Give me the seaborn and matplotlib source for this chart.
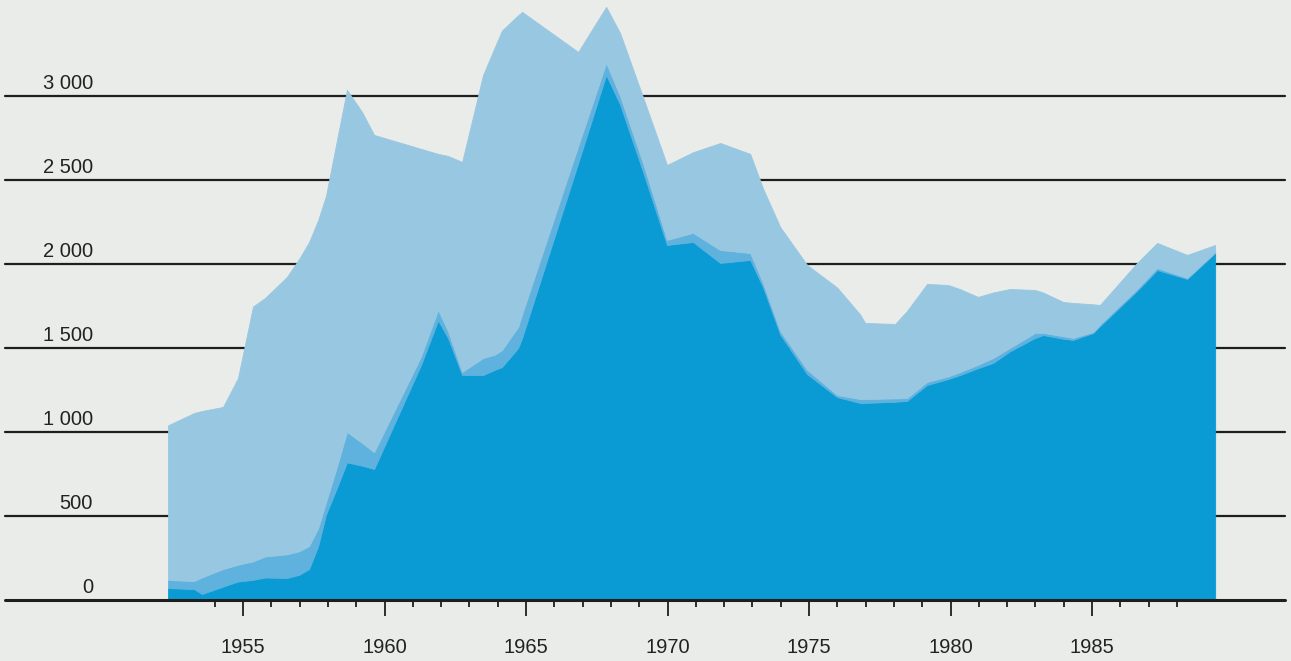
import numpy as np
import pandas as pd
import matplotlib
matplotlib.use("Agg")
import matplotlib.pyplot as plt
import seaborn as sns

# -----------------------------
# data (x in years, layer thickness in units)
# -----------------------------
years = [1952.35, 1953.27, 1953.55, 1954.29, 1954.82, 1955.35, 1955.78, 1956.55,
         1956.98, 1957.33, 1957.65, 1957.93, 1958.29, 1958.67, 1959.20, 1959.63,
         1961.29, 1961.89, 1962.24, 1962.74, 1963.48, 1963.90, 1964.15, 1964.72,
         1964.86, 1966.84, 1967.83, 1968.32, 1969.13, 1969.98, 1970.90, 1971.86,
         1972.92, 1973.37, 1973.98, 1974.93, 1975.99, 1976.80, 1976.98, 1978.04,
         1978.46, 1979.17, 1979.91, 1980.34, 1980.97, 1981.50, 1982.10, 1982.99,
         1983.27, 1983.98, 1984.33, 1985.04, 1985.28, 1986.59, 1987.30, 1988.36,
         1989.35]

dark = [71, 65, 36, 80, 110, 120, 134, 131, 150, 184, 320, 509, 656, 819, 800, 780,
        1400, 1664, 1560, 1339, 1339, 1370, 1387, 1500, 1560, 2600, 3125, 2950,
        2550, 2113, 2131, 2006, 2024, 1863, 1580, 1345, 1208, 1173, 1173, 1180,
        1185, 1280, 1315, 1339, 1380, 1411, 1480, 1560, 1577, 1555, 1548, 1589,
        1630, 1840, 1964, 1911, 2065]

medium = [48, 48, 99, 104, 100, 110, 125, 141, 140, 137, 106, 72, 122, 181, 135, 100,
          50, 62, 40, 18, 101, 90, 101, 125, 140, 100, 71, 50, 50, 30, 54, 77,
          41, 24, 20, 25, 12, 23, 23, 20, 17, 18, 15, 18, 20, 29, 20, 30, 13, 15,
          12, 6, 10, 10, 12, 6, 6]

light = [921, 1000, 990, 965, 1111, 1517, 1539, 1651, 1740, 1809, 1834, 1824, 1936,
         2036, 1970, 1888, 1235, 929, 1043, 1250, 1685, 1832, 1902, 1855, 1800,
         562, 334, 375, 394, 446, 480, 637, 590, 563, 620, 624, 640, 504, 453, 443,
         518, 583, 545, 493, 404, 390, 351, 255, 240, 204, 208, 165, 116, 156, 149,
         137, 42]

y_ticks = [0, 500, 1000, 1500, 2000, 2500, 3000]
y_labels = ["0", "500", "1 000", "1 500", "2 000", "2 500", "3 000"]
x_major = [1955, 1960, 1965, 1970, 1975, 1980, 1985]
x_minor = list(range(1954, 1989))

df = pd.DataFrame({"year": years, "dark": dark, "medium": medium, "light": light})

# -----------------------------
# style
# -----------------------------
sns.set_theme(style="white")
plt.rcParams["font.family"] = ["Liberation Sans", "DejaVu Sans"]
bg = "#e9ece9"
colors = sns.color_palette(["#0a9bd5", "#5fb2de", "#98c7e2"])

fig = plt.figure(figsize=(12.91, 6.61), dpi=100, facecolor=bg)
ax = fig.add_axes([0, 0, 1, 1], facecolor=bg)

# grid lines behind the areas
for v in y_ticks[1:]:
    ax.axhline(v, xmin=0.004, xmax=0.995, color="#1e1e1e", lw=1.6, zorder=1)

polys = ax.stackplot(df["year"], df["dark"], df["medium"], df["light"],
                     colors=colors, zorder=2)
# edge in the face colour hides the thin seams between layers
for p, c in zip(polys, colors):
    p.set_edgecolor(c)
    p.set_linewidth(0.6)

# baseline on top
ax.axhline(0, xmin=0.004, xmax=0.995, color="#1e1e1e", lw=2.2, zorder=3)

ax.set_xlim(1946.41, 1992.03)
ax.set_ylim(-363, 3571)

# y labels sit above their lines
for v, lbl in zip(y_ticks, y_labels):
    ax.annotate(lbl, xy=(0.072, v), xycoords=("axes fraction", "data"),
                xytext=(0, 5), textcoords="offset points",
                ha="right", va="baseline", fontsize=14.5, color="#222222")
ax.set_yticks([])

# x axis ticks hanging from the zero line
for s in ax.spines.values():
    s.set_visible(False)
ax.spines["bottom"].set_position(("data", 0))
ax.set_xticks(x_major)
ax.set_xticklabels([str(x) for x in x_major], fontsize=14.5, color="#222222")
ax.set_xticks([x for x in x_minor if x not in x_major], minor=True)
ax.tick_params(axis="x", which="major", direction="out", length=11.5, width=1.3,
               color="#1e1e1e", pad=16, bottom=True)
ax.tick_params(axis="x", which="minor", direction="out", length=5, width=1.3,
               color="#1e1e1e", bottom=True)

fig.savefig("out.png", dpi=100, facecolor=bg)
